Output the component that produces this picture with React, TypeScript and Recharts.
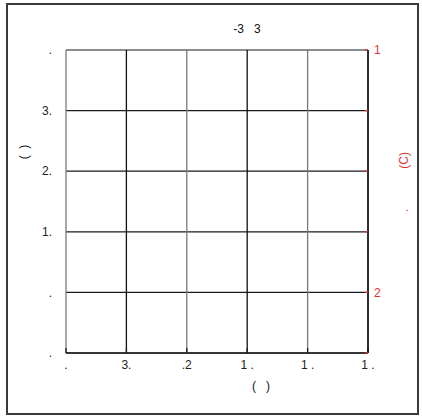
import { LineChart, Line, XAxis, YAxis, CartesianGrid, ReferenceLine, Customized } from 'recharts'

// tick positions and labels as they show in the picture
const xTicks = [0, 1, 2, 3, 4, 5]
const xTickLabels = ['.', '3.', '.2', '1 .', '1 .', '1 .']
const yTicks = [0, 1, 2, 3, 4, 5]
const yTickLabels = ['.', '.', '1.', '2.', '3.', '.']
const rightTickLabels = ['', '2', '', '', '', '1']

const nb = '\u00A0'
const title = `-3${nb}${nb}${nb}3`
const xLabel = `(${nb}${nb}${nb})`
const yLabel = `(${nb}${nb})`
const rightLabel = `.${nb.repeat(12)}(C)`

// the plot holds no visible series, only the frame of axes
const data = xTicks.map((x) => ({ x, left: null, right: null }))

const font = '"Liberation Sans", Arial, sans-serif'

function Decorations() {
  return (
    <g fontFamily={font}>
      <rect x={7} y={4} width={411} height={410} fill="none" stroke="#3a3a3a" strokeWidth={2} />
      <text x={247} y={29} fontSize={12} fill="#111" textAnchor="middle" dominantBaseline="central">
        {title}
      </text>
      <text x={261} y={386} fontSize={12} fill="#111" textAnchor="middle" dominantBaseline="central">
        {xLabel}
      </text>
      <text x={24} y={152} fontSize={12} fill="#111" textAnchor="middle" dominantBaseline="central" transform="rotate(-90 24 152)">
        {yLabel}
      </text>
      <text x={404} y={182} fontSize={12} fill="#e03030" textAnchor="middle" dominantBaseline="central" transform="rotate(-90 404 182)">
        {rightLabel}
      </text>
    </g>
  )
}

export default function App() {
  return (
    <div style={{ position: 'absolute', left: 0, top: 0, background: '#fff' }}>
      <LineChart width={422} height={416} data={data} margin={{ top: 50, right: 14, bottom: 33, left: 26 }}>
        <XAxis
          dataKey="x"
          type="number"
          domain={[0, 5]}
          allowDataOverflow
          ticks={xTicks}
          height={30}
          tickFormatter={(v: number) => xTickLabels[v]}
          axisLine={{ stroke: '#1a1a1a', strokeWidth: 1.3 }}
          tickLine={{ stroke: '#1a1a1a', strokeWidth: 1.3 }}
          tickSize={-5}
          tickMargin={12}
          tick={{ fontSize: 12, fill: '#222', fontFamily: font }}
        />
        <YAxis
          yAxisId="left"
          type="number"
          domain={[0, 5]}
          allowDataOverflow
          ticks={yTicks}
          width={40}
          tickFormatter={(v: number) => yTickLabels[v]}
          axisLine={false}
          tickLine={false}
          tickSize={0}
          tickMargin={14}
          tick={{ fontSize: 12, fill: '#222', fontFamily: font }}
        />
        <YAxis
          yAxisId="right"
          orientation="right"
          type="number"
          domain={[0, 5]}
          allowDataOverflow
          ticks={yTicks}
          width={40}
          tickFormatter={(v: number) => rightTickLabels[v]}
          axisLine={{ stroke: '#111', strokeWidth: 1.3 }}
          tickLine={{ stroke: '#e03030', strokeWidth: 1.3 }}
          tickSize={-3}
          tickMargin={9}
          tick={{ fontSize: 12, fill: '#e03030', fontFamily: font }}
        />
        <CartesianGrid vertical={false} stroke="#1a1a1a" strokeWidth={1.2} yAxisId="left" />
        {xTicks.map((t, i) => (
          <ReferenceLine key={t} x={t} yAxisId="left" stroke={i % 2 === 0 ? '#7a7a7a' : '#111'} strokeWidth={1.3} />
        ))}
        <Line yAxisId="left" dataKey="left" stroke="none" dot={false} isAnimationActive={false} />
        <Line yAxisId="right" dataKey="right" stroke="none" dot={false} isAnimationActive={false} />
        <Customized component={Decorations} />
      </LineChart>
    </div>
  )
}
